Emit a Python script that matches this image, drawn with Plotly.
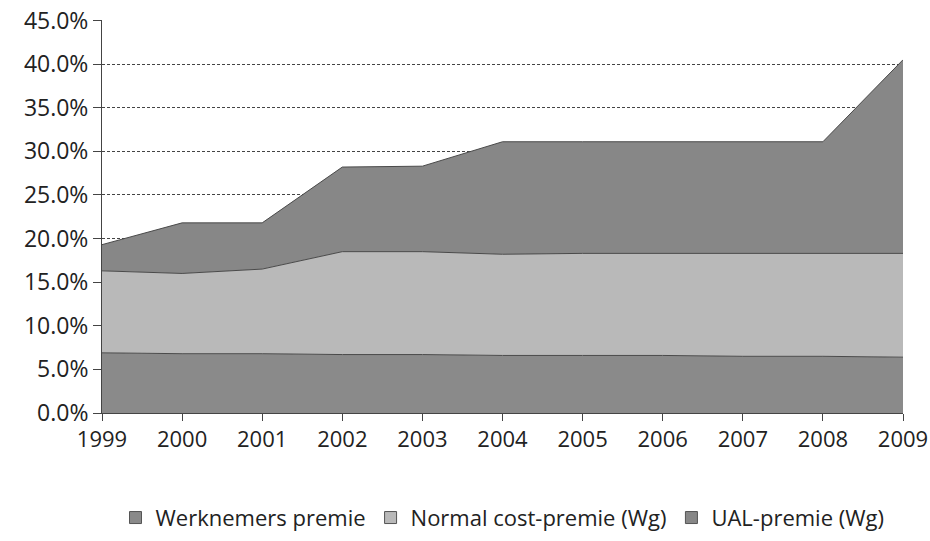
import plotly.graph_objects as go

years = [1999, 2000, 2001, 2002, 2003, 2004, 2005, 2006, 2007, 2008, 2009]
werknemers = [6.9, 6.8, 6.8, 6.7, 6.7, 6.6, 6.6, 6.6, 6.5, 6.5, 6.4]
normal_cost = [9.4, 9.2, 9.7, 11.8, 11.8, 11.6, 11.7, 11.7, 11.8, 11.8, 11.9]
ual = [3.0, 5.8, 5.3, 9.7, 9.8, 12.9, 12.8, 12.8, 12.8, 12.8, 22.2]
tick_vals = [0, 5, 10, 15, 20, 25, 30, 35, 40, 45]
tick_text = ["0.0%", "5.0%", "10.0%", "15.0%", "20.0%", "25.0%", "30.0%", "35.0%", "40.0%", "45.0%"]

series = [
    ("Werknemers premie", werknemers, "#8a8a8a"),
    ("Normal cost-premie (Wg)", normal_cost, "#b9b9b9"),
    ("UAL-premie (Wg)", ual, "#878787"),
]

fig = go.Figure()
for name, vals, col in series:
    fig.add_trace(go.Scatter(
        x=years, y=vals, name=name, mode="lines", stackgroup="one",
        line=dict(color="#4a4a4a", width=1), fillcolor=col, showlegend=False,
    ))
# legend entries with small square swatches
for name, vals, col in series:
    fig.add_trace(go.Scatter(
        x=[None], y=[None], name=name, mode="markers",
        marker=dict(symbol="square", size=12, color=col, line=dict(color="#555", width=1)),
        showlegend=True,
    ))

font = dict(family="Open Sans, Noto Sans, sans-serif", size=23, color="#222")
fig.update_layout(
    width=930, height=541,
    margin=dict(l=102, r=27, t=20, b=128),
    paper_bgcolor="white", plot_bgcolor="white",
    font=font,
    showlegend=True,
    legend=dict(orientation="h", x=0.5, xanchor="center",
                yref="container", y=0.043, yanchor="middle",
                font=dict(size=22), traceorder="normal", itemwidth=30,
                tracegroupgap=0),
    xaxis=dict(range=[1999, 2009], tickvals=years, ticktext=[str(y) for y in years],
               showgrid=False, showline=True, linecolor="#444", linewidth=1,
               ticks="outside", ticklen=7, tickcolor="#444", zeroline=False,
               tickfont=dict(size=22), automargin=False),
    yaxis=dict(range=[0, 45.06], tickvals=tick_vals, ticktext=tick_text,
               showgrid=True, gridcolor="#444", griddash="3px,2px", gridwidth=1,
               showline=True, linecolor="#444", linewidth=1,
               ticks="outside", ticklen=8, tickcolor="#444", zeroline=False,
               automargin=False),
)

fig.write_html("out.html", config={"displayModeBar": False},
               post_script="document.body.style.margin='0';")
